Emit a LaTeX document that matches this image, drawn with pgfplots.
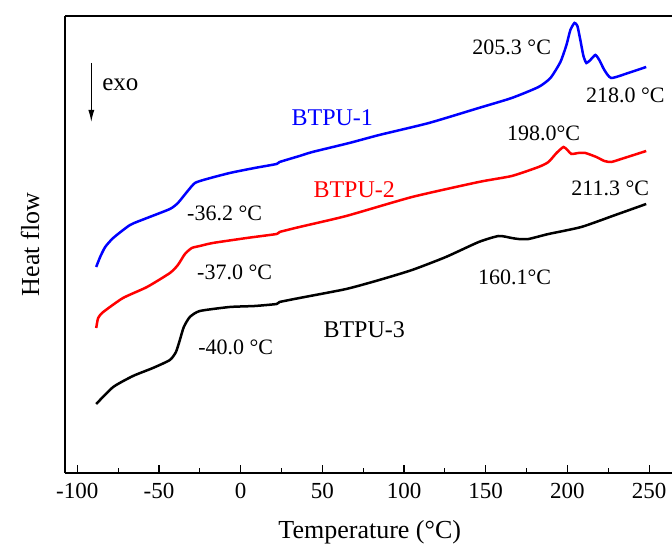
\documentclass[border=0pt]{standalone}
\usepackage{fontspec}
\setmainfont{Liberation Serif}
\usepackage{pgfplots}
\usetikzlibrary{arrows.meta}
\pgfplotsset{compat=1.18}
\definecolor{pblue}{RGB}{0,0,255}
\definecolor{pred}{RGB}{255,0,0}
\begin{document}
\begin{tikzpicture}
\useasboundingbox (0,0) rectangle (672bp,547bp);
\begin{axis}[
  at={(65bp,74bp)}, anchor=south west, scale only axis,
  width=607bp, height=457bp,
  xmin=-107.5, xmax=264, ymin=0, ymax=457,
  axis x line=box, axis y line=left,
  axis line style={-, line width=1.4bp},
  xtick={-100,-50,...,250}, minor x tick num=1,
  ytick=\empty, minor ytick={34,80,...,402},
  tick pos=left, tick align=inside,
  major tick length=8bp, minor tick length=4.5bp,
  every tick/.style={black, line width=1.2bp},
  /pgf/number format/assume math mode=true,
  ticklabel style={font=\fontsize{23bp}{26bp}\selectfont},
  xticklabel style={yshift=-7bp},
  xlabel={Temperature (°C)}, ylabel={Heat flow},
  label style={font=\fontsize{26bp}{30bp}\selectfont},
  xlabel style={at={(axis description cs:0.502,-0.1300)}, anchor=center},
  ylabel style={at={(axis description cs:-0.0577,0.5)}, anchor=center},
  every axis plot/.append style={line width=2.5bp, smooth, tension=0.35},
  clip=true,
]
% BTPU-1
\addplot[pblue] coordinates {
(-88.4,206) (-86.0,216) (-82.9,226) (-78.0,235) (-67.7,248) (-57.3,255)
(-43.3,264) (-38.4,270) (-32.9,281) (-28.0,290) (-20.7,294) (-6.7,300)
(8.5,305) (22.0,309) (23.8,311) (36.0,317) (43.9,321) (66.5,330)
(84.8,338) (115.2,350) (145.7,365) (165.9,375) (182.3,386) (189.6,395)
(195.7,411) (199.4,428) (201.8,443) (204.3,450) (206.1,447) (207.9,433)
(209.8,417) (211.6,410) (214.0,413) (217.1,418) (219.5,413) (222.6,403)
(226.8,395) (237.2,400) (248.2,406)
};
% BTPU-2
\addplot[pred] coordinates {
(-88.4,145) (-87.2,155) (-84.1,161) (-72.0,175) (-57.3,186) (-43.3,200)
(-38.4,208) (-34.1,219) (-29.9,225) (-25.0,227) (-17.1,230) (3.7,235)
(22.0,239) (23.8,241) (36.0,246) (64.6,257) (104.9,276) (145.7,291)
(165.9,297) (182.3,306) (188.4,311) (193.3,320) (197.6,326) (200.0,323)
(202.4,319) (206.7,320) (211.0,320) (217.7,316) (222.6,312) (226.8,311)
(232.9,314) (248.2,322)
};
% BTPU-3
\addplot[black] coordinates {
(-88.4,69) (-78.0,86) (-65.9,97) (-53.7,105) (-43.3,113) (-39.6,121)
(-37.2,133) (-34.8,146) (-31.1,156) (-25.0,162) (-6.7,166) (8.5,167)
(22.0,169) (23.8,171) (36.0,175) (64.6,184) (84.8,193) (104.9,203)
(125.6,216) (145.7,231) (157.9,237) (165.9,235) (170.1,234) (176.2,234)
(188.4,239) (208.5,246) (229.3,258) (248.2,269)
};
\begin{scope}[every node/.style={font=\fontsize{22bp}{26bp}\selectfont, inner sep=0pt}]
\draw[-{Latex[length=12bp,width=6bp]}, line width=1.1bp] (axis cs:-91.4,410) -- (axis cs:-91.4,351);
\node[anchor=west, font=\fontsize{25bp}{28bp}\selectfont] at (axis cs:-84.8,388) {exo};
\node[text=pblue, font=\fontsize{24bp}{26bp}\selectfont] at (axis cs:56.1,355) {BTPU-1};
\node[text=pred, font=\fontsize{24bp}{26bp}\selectfont] at (axis cs:69.5,283) {BTPU-2};
\node[font=\fontsize{24bp}{26bp}\selectfont] at (axis cs:75.6,143) {BTPU-3};
\node at (axis cs:165.9,426) {205.3 °C};
\node at (axis cs:235.4,378) {218.0 °C};
\node at (axis cs:185.4,340) {198.0°C};
\node at (axis cs:226.2,285) {211.3 °C};
\node at (axis cs:-9.8,260) {-36.2 °C};
\node at (axis cs:-3.7,201) {-37.0 °C};
\node at (axis cs:-3.0,126) {-40.0 °C};
\node at (axis cs:167.7,196) {160.1°C};
\end{scope}
\end{axis}
\end{tikzpicture}
\end{document}
